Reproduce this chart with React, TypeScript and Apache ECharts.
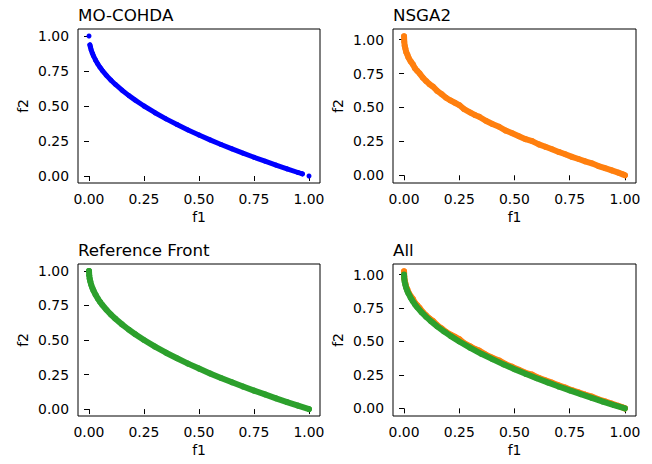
import React, { useEffect, useRef } from "react";
import * as echarts from "echarts";

// ---- data ----
const panelTitles = ["MO-COHDA", "NSGA2", "Reference Front", "All"];
const tickValues = [0, 0.25, 0.5, 0.75, 1.0];
const tickLabels = ["0.00", "0.25", "0.50", "0.75", "1.00"];

// MO-COHDA: isolated extreme points + the continuous band
const cohdaExtremeF1 = [0.0, 1.0];
const cohdaExtremeF2 = [1.0, 0.0];
const cohdaF1 = [0.004, 0.006, 0.01, 0.015, 0.02, 0.03, 0.04, 0.05, 0.06, 0.08, 0.1, 0.12, 0.15, 0.18, 0.21, 0.25, 0.3, 0.35, 0.4, 0.45, 0.5, 0.55, 0.6, 0.65, 0.7, 0.75, 0.8, 0.85, 0.9, 0.95, 0.97];
const cohdaF2 = [0.937, 0.923, 0.9, 0.878, 0.859, 0.827, 0.8, 0.776, 0.755, 0.717, 0.684, 0.654, 0.613, 0.576, 0.542, 0.5, 0.452, 0.408, 0.368, 0.329, 0.293, 0.258, 0.225, 0.194, 0.163, 0.134, 0.106, 0.078, 0.051, 0.025, 0.015];

// NSGA2: noisy front
const nsgaF1 = [0.0, 0.001, 0.003, 0.006, 0.01, 0.015, 0.02, 0.03, 0.04, 0.05, 0.06, 0.07, 0.085, 0.1, 0.115, 0.13, 0.15, 0.17, 0.19, 0.21, 0.23, 0.25, 0.27, 0.3, 0.32, 0.34, 0.37, 0.4, 0.43, 0.46, 0.49, 0.52, 0.55, 0.58, 0.61, 0.64, 0.67, 0.7, 0.73, 0.76, 0.79, 0.82, 0.85, 0.88, 0.91, 0.94, 0.97, 0.99, 1.0];
const nsgaF2 = [1.025, 0.985, 0.955, 0.935, 0.908, 0.89, 0.868, 0.84, 0.818, 0.788, 0.77, 0.752, 0.72, 0.695, 0.672, 0.655, 0.622, 0.598, 0.572, 0.552, 0.535, 0.518, 0.49, 0.463, 0.445, 0.432, 0.402, 0.378, 0.358, 0.33, 0.31, 0.288, 0.266, 0.252, 0.228, 0.21, 0.192, 0.172, 0.155, 0.136, 0.12, 0.103, 0.088, 0.068, 0.052, 0.036, 0.019, 0.007, 0.0];

// Reference front
const refF1 = [0, 0.001, 0.003, 0.006, 0.01, 0.015, 0.02, 0.03, 0.04, 0.05, 0.06, 0.08, 0.1, 0.12, 0.15, 0.18, 0.21, 0.25, 0.3, 0.35, 0.4, 0.45, 0.5, 0.55, 0.6, 0.65, 0.7, 0.75, 0.8, 0.85, 0.9, 0.95, 1.0];
const refF2 = [1.0, 0.968, 0.945, 0.923, 0.9, 0.878, 0.859, 0.827, 0.8, 0.776, 0.755, 0.717, 0.684, 0.654, 0.613, 0.576, 0.542, 0.5, 0.452, 0.408, 0.368, 0.329, 0.293, 0.258, 0.225, 0.194, 0.163, 0.134, 0.106, 0.078, 0.051, 0.025, 0.0];

const BLUE = "#0000ff";
const ORANGE = "#ff7f0e";
const GREEN = "#2ca02c";
const FONT = "DejaVu Sans";

const zip = (a: number[], b: number[]) => a.map((v, i) => [v, b[i]]);

export default function App() {
  const ref = useRef<HTMLDivElement>(null);
  useEffect(() => {
    if (!ref.current) return;
    const chart = echarts.init(ref.current, null, { renderer: "svg" });

    const grids = [
      { left: 78, top: 29, width: 242, height: 154 },
      { left: 393, top: 29, width: 243, height: 154 },
      { left: 78, top: 264, width: 242, height: 152 },
      { left: 393, top: 264, width: 243, height: 152 },
    ];
    const yRanges = [
      [-0.05, 1.05],
      [-0.057, 1.079],
      [-0.05, 1.05],
      [-0.057, 1.079],
    ];

    const fmt = (v: number) => {
      const i = tickValues.findIndex((t) => Math.abs(t - v) < 1e-9);
      return i >= 0 ? tickLabels[i] : v.toFixed(2);
    };

    const axisCommon = {
      type: "value",
      nameLocation: "middle",
      nameTextStyle: { fontFamily: FONT, fontSize: 13.9, color: "#000" },
      axisLine: { show: false },
      axisTick: { show: true, inside: false, length: 5, lineStyle: { color: "#000", width: 1 }, customValues: tickValues },
      axisLabel: { show: true, fontFamily: FONT, fontSize: 13.9, color: "#000", margin: 9, customValues: tickValues, formatter: fmt },
      splitLine: { show: false },
    };

    const xAxis = grids.map((_, i) => ({
      ...axisCommon,
      gridIndex: i,
      min: -0.05,
      max: 1.05,
      name: "f1",
      nameGap: 27,
    }));
    const yAxis = grids.map((_, i) => ({
      ...axisCommon,
      gridIndex: i,
      min: yRanges[i][0],
      max: yRanges[i][1],
      name: "f2",
      nameGap: 48,
    }));

    const band = (idx: number, data: number[][], color: string, width: number) => ({
      type: "line",
      xAxisIndex: idx,
      yAxisIndex: idx,
      data,
      showSymbol: false,
      symbol: "none",
      silent: true,
      lineStyle: { color, width, cap: "round", join: "round" },
    });
    const dots = (idx: number, data: number[][], color: string, size: number) => ({
      type: "scatter",
      xAxisIndex: idx,
      yAxisIndex: idx,
      data,
      symbol: "circle",
      symbolSize: size,
      silent: true,
      itemStyle: { color, opacity: 1 },
    });

    const cohda = zip(cohdaF1, cohdaF2);
    const cohdaExt = zip(cohdaExtremeF1, cohdaExtremeF2);
    const nsga = zip(nsgaF1, nsgaF2);
    const refData = zip(refF1, refF2);

    const series = [
      band(0, cohda, BLUE, 5),
      dots(0, cohda, BLUE, 5),
      dots(0, cohdaExt, BLUE, 5),
      band(1, nsga, ORANGE, 6),
      dots(1, nsga, ORANGE, 6),
      band(2, refData, GREEN, 6),
      dots(2, refData, GREEN, 6),
      band(3, nsga, ORANGE, 6),
      dots(3, nsga, ORANGE, 6),
      band(3, refData, GREEN, 6),
      dots(3, refData, GREEN, 6),
    ];

    const title = grids.map((g, i) => ({
      text: panelTitles[i],
      left: g.left,
      top: g.top - 23,
      padding: 0,
      textStyle: { fontFamily: FONT, fontSize: 16.7, fontWeight: "normal", color: "#000" },
    }));

    chart.setOption({
      animation: false,
      backgroundColor: "#ffffff",
      title,
      grid: grids.map((g) => ({ ...g, show: true, borderColor: "#000", borderWidth: 1, backgroundColor: "transparent", containLabel: false })),
      xAxis,
      yAxis,
      series,
    });
    return () => chart.dispose();
  }, []);
  return <div ref={ref} style={{ position: "absolute", left: 0, top: 0, width: 652, height: 464 }} />;
}
